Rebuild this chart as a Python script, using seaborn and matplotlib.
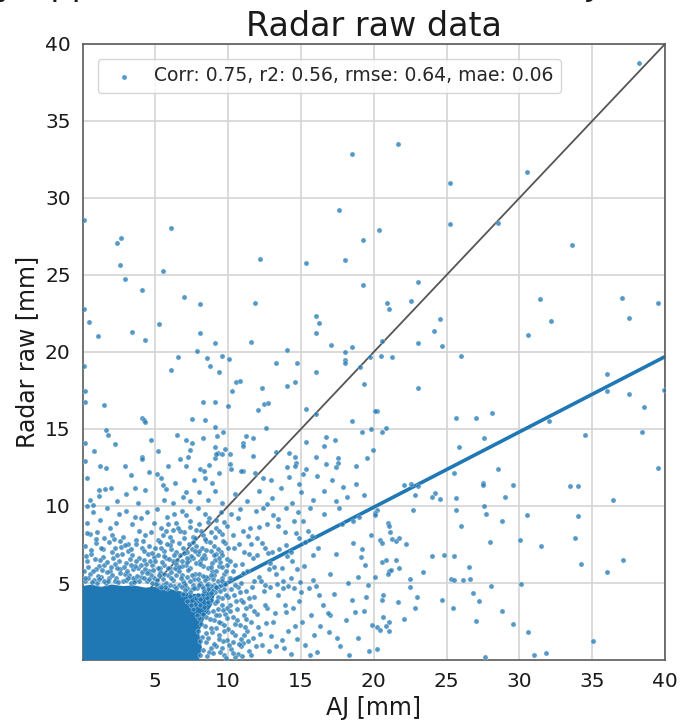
import pandas as pd
import matplotlib
matplotlib.use('Agg')
import matplotlib.pyplot as plt
import seaborn as sns

# ----------------------------------------------------------------------
# Texts
# ----------------------------------------------------------------------
TITLE_TOP = 'Hourly Uppsala radar measures versus AJ on all stations'
TITLE = 'Radar raw data'
X_LABEL = 'AJ [mm]'
Y_LABEL = 'Radar raw [mm]'
LEGEND_LABEL = 'Corr: 0.75, r2: 0.56, rmse: 0.64, mae: 0.06'
TICKS = [5, 10, 15, 20, 25, 30, 35, 40]

# ----------------------------------------------------------------------
# Lines (1:1 and fitted)
# ----------------------------------------------------------------------
one_x = [0, 40]
one_y = [0, 40]
fit_x = [0, 40]
fit_y = [0.14, 19.7]

# saturated core of the cloud (outline)
core_x = [0, 0, 0.6, 1.3, 2.0, 2.8, 3.5, 4.3, 5.0, 5.6, 6.3, 7.0, 7.6, 8.2, 8.7, 9.1, 8.9, 8.4, 8.0, 8.2, 8.0, 0]
core_y = [0, 4.8, 4.9, 4.75, 4.9, 4.8, 4.85, 4.7, 4.75, 4.7, 4.55, 4.4, 4.3, 4.3, 4.45, 4.3, 3.6, 2.8, 1.8, 0.8, 0, 0]

# ----------------------------------------------------------------------
# Scatter points (AJ, radar raw), grouped by region
# ----------------------------------------------------------------------
pts_top_left = [
    (18.53, 32.84), (17.64, 29.2), (19.24, 27.3), (6.08, 28.07), (2.67, 27.4),
    (2.37, 27.08), (2.55, 25.67), (2.90, 24.72), (4.06, 24.0), (5.55, 25.23),
    (6.97, 23.6), (8.09, 23.1), (12.17, 26.06), (11.87, 23.2), (15.35, 25.8),
    (18.05, 26.0), (19.24, 24.35), (16.06, 22.34), (16.24, 21.88), (16.06, 21.21),
    (17.05, 20.43), (18.53, 20.32), (18.05, 19.98), (18.05, 19.48), (18.05, 19.27),
    (19.04, 19.0), (19.77, 19.7), (19.36, 17.92), (16.06, 18.7), (14.75, 19.27),
    (14.05, 20.15), (13.27, 19.27), (14.57, 18.03), (14.05, 17.81), (12.35, 17.66),
    (10.56, 18.07), (10.84, 18.12), (11.57, 20.65), (10.04, 19.55), (9.56, 19.76),
    (9.37, 18.7), (8.73, 19.09), (8.55, 19.59), (7.86, 20.04), (9.1, 20.58),
    (8.09, 21.21), (6.56, 19.7), (6.08, 18.81), (5.25, 21.82), (4.27, 20.76),
    (3.38, 21.28), (1.06, 21.04), (0.45, 21.93), (0.1, 28.6), (0.1, 22.8), (0.1, 19.1),
]

pts_top_right = [
    (38.24, 38.75), (21.65, 33.5), (25.26, 30.97), (30.55, 31.7), (20.36, 27.92),
    (25.26, 28.29), (28.56, 28.38), (33.62, 26.93), (23.07, 24.57), (20.93, 23.18),
    (21.07, 22.77), (22.54, 23.33), (24.55, 22.16), (24.14, 21.34), (23.07, 20.56),
    (24.67, 20.39), (20.55, 20.69), (31.42, 23.44), (32.15, 21.99), (30.62, 21.1),
    (37.03, 23.5), (37.53, 22.23), (39.53, 23.16),
]

pts_right = [
    (20.5, 19.76), (21.24, 19.65), (26.0, 19.76), (23.07, 17.64), (20.23, 16.19),
    (25.65, 15.73), (27.03, 15.73), (28.15, 16.02), (20.55, 14.78), (20.85, 15.08),
    (25.84, 13.83), (27.6, 14.39), (36.04, 18.59), (36.04, 17.49), (37.53, 17.25),
    (38.54, 16.41), (39.94, 17.53), (32.02, 15.52), (34.49, 14.63), (38.4, 14.78),
    (39.53, 12.45), (28.56, 12.4), (25.54, 12.12), (27.53, 11.47), (27.53, 11.36),
    (29.55, 11.38), (29.02, 10.6), (33.5, 11.28), (34.03, 11.28), (36.41, 10.39),
    (25.65, 10.49), (24.55, 10.45), (23.98, 10.6), (24.2, 10.82), (22.06, 11.38),
    (22.56, 11.45), (23.07, 11.3), (22.84, 10.71), (22.72, 9.76), (20.23, 9.74),
    (20.09, 9.55), (27.55, 10.03), (25.65, 9.72), (27.73, 9.48), (26.0, 8.72),
    (28.81, 9.03), (30.55, 9.44), (34.03, 9.37), (27.97, 7.68), (30.03, 7.79),
    (31.49, 7.42), (33.8, 7.9), (34.22, 6.25), (37.1, 6.47), (36.04, 5.69),
    (20.96, 8.87), (21.05, 8.7), (21.12, 8.29), (20.43, 7.79), (20.55, 7.58),
    (21.24, 7.86), (21.53, 7.71), (21.74, 7.92), (22.24, 7.53), (20.55, 6.36),
    (20.85, 6.51), (21.53, 6.47), (21.05, 5.78), (21.19, 5.84), (21.0, 5.6),
    (21.76, 5.95), (23.36, 5.69), (24.0, 6.75), (24.85, 6.82), (25.54, 6.75),
    (26.57, 6.02), (22.51, 5.28), (22.51, 4.74), (22.95, 4.11), (20.66, 4.24),
    (20.55, 3.9), (21.65, 3.79), (22.84, 3.4), (25.33, 5.28), (25.49, 5.19),
    (26.13, 5.21), (26.61, 5.28), (24.71, 3.9), (25.42, 3.4), (26.84, 4.35),
    (27.25, 3.83), (28.03, 4.78), (30.12, 4.95), (28.81, 3.18), (27.0, 2.51),
    (29.55, 2.34), (30.62, 1.8), (35.06, 1.23), (31.03, 0.34), (31.85, 0.45),
    (27.64, 0.17), (20.66, 2.79), (21.07, 2.49), (20.85, 2.23), (22.06, 2.68),
    (20.2, 2.14), (20.43, 1.93), (21.07, 1.9), (20.2, 0.73), (20.09, 5.41), (20.09, 9.4),
]

pts_mid = [
    (10.27, 17.47), (1.48, 16.58), (8.28, 16.75), (9.1, 16.75), (9.97, 16.47),
    (12.05, 16.23), (12.47, 16.64), (12.76, 16.71), (15.35, 16.3), (16.06, 15.97),
    (18.53, 15.52), (20.07, 16.15), (4.11, 15.69), (4.22, 15.58), (4.29, 15.43),
    (7.54, 15.67), (8.44, 15.58), (9.1, 15.13), (12.58, 15.08), (1.64, 14.94),
    (1.77, 14.61), (4.68, 14.29), (7.09, 14.29), (7.54, 14.11), (8.28, 14.4),
    (9.26, 14.55), (9.67, 14.79), (11.05, 14.07), (11.05, 13.9), (11.71, 14.4),
    (15.35, 14.16), (16.75, 14.5), (17.37, 14.29), (16.57, 13.9), (19.22, 14.83),
    (19.84, 14.98), (19.93, 13.64), (19.52, 13.1), (7.41, 13.62), (7.27, 13.2),
    (6.68, 13.05), (9.1, 13.81), (9.31, 13.46), (9.77, 13.68), (10.11, 13.38),
    (9.56, 13.38), (9.08, 13.1), (9.19, 13.38), (11.73, 13.27), (13.31, 13.49),
    (14.16, 13.42), (14.57, 13.16), (14.68, 12.77), (16.06, 13.2), (17.53, 13.12),
    (17.57, 12.81), (4.07, 13.16), (4.11, 13.03), (1.18, 12.62), (1.59, 12.49),
    (2.9, 12.6), (7.09, 12.6), (8.09, 12.4), (10.13, 12.7), (11.02, 12.3),
    (14.05, 12.5), (14.59, 12.6), (15.37, 12.4), (16.75, 12.7), (17.43, 12.5),
    (18.76, 12.6), (0.17, 17.49), (0.17, 16.75), (0.17, 14.07), (11.23, 14.55),
]

pts_band_low = [
    (1.16, 11.04), (1.57, 11.1), (1.11, 10.65), (0.31, 11.84), (1.94, 11.17),
    (2.97, 10.76), (3.61, 11.15), (4.29, 11.06), (0.5, 10.4), (2.4, 10.3),
    (3.3, 12.0), (0.8, 13.6), (2.2, 14.0), (3.8, 10.2), (4.6, 12.2), (0.2, 12.9),
    (5.14, 12.08), (5.37, 11.82), (5.53, 11.38), (5.73, 11.08), (6.33, 11.47),
    (8.32, 12.29), (8.43, 11.82), (7.11, 10.91), (7.68, 11.69), (8.67, 12.64),
    (9.4, 12.16), (5.6, 10.4), (6.2, 10.2), (6.9, 10.6), (7.4, 10.3), (8.0, 10.9),
    (8.6, 10.4), (9.1, 11.0), (9.6, 10.2), (5.9, 12.6), (8.9, 11.5), (6.5, 14.6),
    (5.2, 13.6), (10.22, 12.38), (10.91, 12.29), (11.85, 12.12), (12.4, 11.8),
    (12.97, 11.69), (14.18, 11.9), (15.17, 12.08), (16.08, 11.95), (17.11, 11.69),
    (17.91, 11.25), (18.15, 10.6), (10.5, 10.8), (11.3, 10.3), (12.1, 11.0),
    (13.0, 10.5), (13.6, 11.2), (14.4, 10.2), (15.0, 10.9), (15.8, 10.4),
    (16.6, 11.0), (17.4, 10.3), (18.8, 11.4), (19.3, 10.7), (12.7, 10.1), (14.9, 11.4),
]

pts_ring = [
    (0.2, 5.1), (0.5, 5.6), (0.8, 5.2), (1.1, 6.1), (1.3, 5.4), (1.6, 5.0),
    (1.9, 5.8), (2.1, 6.6), (2.3, 5.3), (2.6, 5.9), (2.8, 5.1), (3.0, 6.3),
    (3.2, 5.5), (3.4, 6.8), (3.6, 5.2), (3.8, 6.0), (4.0, 5.4), (4.2, 6.5),
    (4.4, 5.1), (4.6, 5.8), (4.8, 6.2), (4.9, 5.3), (0.3, 6.4), (0.6, 6.9),
    (0.9, 5.9), (1.4, 6.7), (1.8, 5.3), (2.0, 7.0), (2.5, 6.4), (2.9, 5.6),
    (3.1, 7.1), (3.5, 5.9), (3.9, 6.6), (4.1, 5.7), (4.5, 6.9), (4.7, 5.5),
    (0.1, 5.8), (1.0, 5.0), (1.5, 6.2), (2.2, 5.1), (2.7, 6.9), (3.3, 5.0),
    (3.7, 6.4), (4.3, 5.9), (4.9, 6.7), (0.4, 5.3), (1.2, 6.5), (1.7, 5.7),
    (2.4, 6.0), (3.0, 5.2), (3.6, 6.1), (4.2, 5.3), (4.8, 5.0),
    (0.2, 7.4), (0.5, 8.2), (0.9, 7.6), (1.2, 9.1), (1.5, 7.9), (1.9, 8.6),
    (2.2, 7.3), (2.5, 9.5), (2.8, 8.0), (3.1, 7.5), (3.4, 8.8), (3.7, 7.8),
    (4.0, 9.2), (4.3, 8.1), (4.6, 7.4), (4.9, 8.9), (0.7, 9.6), (1.0, 8.3),
    (1.7, 9.9), (2.0, 8.1), (2.6, 7.7), (3.0, 9.7), (3.3, 7.2), (3.9, 8.4),
    (4.4, 9.6), (4.7, 8.3), (0.3, 8.9), (1.4, 7.2), (2.3, 8.9), (3.6, 9.3),
    (4.1, 7.3), (0.33, 8.27), (0.31, 10.0), (0.74, 10.04),
]

pts_ring2 = [
    (0.15, 5.35), (0.35, 6.05), (0.65, 5.05), (0.85, 6.55), (1.05, 5.45), (1.25, 7.25),
    (1.45, 5.15), (1.65, 6.35), (1.85, 7.65), (2.05, 5.55), (2.25, 6.25), (2.45, 5.05),
    (2.65, 7.35), (2.85, 6.05), (3.05, 5.75), (3.25, 6.55), (3.45, 5.35), (3.65, 7.55),
    (3.85, 5.15), (4.05, 6.15), (4.25, 7.05), (4.45, 5.65), (4.65, 6.45), (4.85, 5.85),
    (0.55, 7.15), (0.95, 7.85), (1.35, 5.85), (1.75, 5.15), (2.15, 7.85), (2.55, 5.65),
    (2.95, 7.45), (3.35, 6.15), (3.75, 5.45), (4.15, 7.75), (4.55, 5.25), (4.95, 7.25),
    (0.25, 6.75), (1.15, 5.25), (2.35, 6.85), (3.55, 5.05), (4.35, 6.25), (0.75, 5.75),
    (1.95, 6.05), (3.15, 5.35), (4.75, 6.95),
]

pts_diag = [
    (5.1, 5.2), (5.3, 6.0), (5.5, 4.9), (5.7, 6.6), (5.9, 5.5), (6.1, 7.2),
    (6.3, 4.8), (6.5, 5.9), (6.7, 6.8), (6.9, 5.1), (7.1, 6.2), (7.3, 7.5),
    (7.5, 4.6), (7.7, 5.6), (7.9, 6.9), (8.1, 5.0), (8.3, 6.1), (8.5, 7.7),
    (8.7, 4.7), (8.9, 5.8), (9.1, 6.5), (9.3, 5.1), (9.5, 7.0), (9.7, 5.6),
    (9.9, 6.2), (5.2, 7.8), (5.4, 8.6), (5.6, 7.1), (5.8, 9.3), (6.0, 8.0),
    (6.2, 6.4), (6.4, 8.9), (6.6, 7.6), (6.8, 9.7), (7.0, 8.3), (7.2, 5.4),
    (7.4, 9.0), (7.6, 8.0), (7.8, 6.3), (8.0, 8.8), (8.2, 7.3), (8.4, 9.5),
    (8.6, 6.0), (8.8, 8.3), (9.0, 7.4), (9.2, 9.1), (9.4, 6.1), (9.6, 8.2),
    (9.8, 7.6), (5.0, 6.4), (5.2, 4.9), (5.4, 7.3), (5.6, 5.6), (5.8, 4.7),
    (6.0, 6.0), (6.2, 5.2), (6.4, 7.0), (6.6, 4.9), (6.8, 6.1), (7.0, 5.0),
    (7.2, 7.0), (7.4, 6.0), (7.6, 4.9), (7.8, 7.4), (8.0, 5.6), (8.2, 4.8),
    (8.4, 6.6), (8.6, 5.3), (8.8, 7.1), (9.0, 4.9), (9.2, 5.8), (9.4, 4.8),
    (9.6, 6.8), (9.8, 5.0), (5.1, 9.8), (5.5, 8.1), (5.9, 8.8), (6.3, 9.5),
    (6.7, 8.4), (7.1, 9.4), (7.5, 7.2), (7.9, 9.9), (8.3, 8.1), (8.7, 9.2),
    (9.1, 8.0), (9.5, 9.6), (9.9, 8.7), (5.3, 5.7), (5.7, 5.0), (6.1, 5.7),
    (6.5, 6.5), (6.9, 7.3), (7.3, 6.5), (7.7, 7.9), (8.1, 6.4), (8.5, 5.4),
    (8.9, 6.3), (9.3, 7.2), (9.7, 4.6), (5.6, 6.2), (6.0, 4.9), (6.4, 5.5),
    (6.8, 5.5), (7.2, 4.7), (7.6, 6.6), (8.0, 7.1), (8.4, 5.2), (8.8, 4.8),
    (9.2, 6.9), (9.6, 5.3), (10.0, 7.3),
]

pts_diag2 = [
    (5.05, 4.95), (5.25, 5.55), (5.45, 6.35), (5.65, 4.75), (5.85, 5.95), (6.05, 5.35),
    (6.25, 6.85), (6.45, 4.65), (6.65, 5.75), (6.85, 6.45), (7.05, 4.85), (7.25, 5.85),
    (7.45, 6.75), (7.65, 5.25), (7.85, 4.65), (8.05, 6.25), (8.25, 5.45), (8.45, 7.15),
    (8.65, 4.95), (8.85, 6.05), (9.05, 5.55), (9.25, 4.65), (9.45, 6.35), (9.65, 7.75),
    (9.85, 5.75), (5.15, 6.85), (5.35, 7.65), (5.55, 5.25), (5.75, 8.35), (5.95, 6.55),
    (6.15, 7.75), (6.35, 5.95), (6.55, 8.55), (6.75, 5.35), (6.95, 7.95), (7.15, 6.65),
    (7.35, 8.65), (7.55, 5.55), (7.75, 7.05), (7.95, 5.25), (8.15, 8.35), (8.35, 6.85),
    (8.55, 4.85), (8.75, 7.65), (8.95, 5.25), (9.15, 8.55), (9.35, 6.65), (9.55, 5.15),
    (9.75, 8.95), (9.95, 6.55), (5.2, 5.95), (5.6, 6.75), (6.0, 7.45), (6.4, 6.25),
    (6.8, 4.75), (7.2, 6.35), (7.6, 7.65), (8.0, 4.85), (8.4, 7.85), (8.8, 5.55),
    (9.2, 4.75), (9.6, 6.05), (5.4, 4.75), (5.8, 7.55), (6.2, 8.45), (6.6, 6.05),
    (7.0, 6.95), (7.4, 5.15), (7.8, 8.45), (8.2, 6.65), (8.6, 8.95), (9.0, 6.85),
    (9.4, 8.35), (9.8, 4.95),
]

pts_low = [
    (6.9, 4.3), (7.2, 3.8), (7.4, 4.4), (7.6, 3.3), (7.8, 4.0), (8.0, 2.7),
    (8.1, 3.6), (8.3, 4.3), (8.4, 2.2), (8.5, 1.2), (8.6, 3.1), (8.7, 0.5),
    (8.8, 3.9), (8.9, 1.8), (9.0, 2.6), (9.1, 4.4), (9.2, 0.9), (9.3, 3.3),
    (9.4, 1.6), (9.5, 2.4), (9.6, 4.0), (9.7, 0.3), (9.8, 3.0), (9.9, 1.3),
    (10.0, 2.0), (10.1, 3.6), (10.2, 0.7), (10.3, 2.8), (10.4, 4.2), (10.5, 1.6),
    (10.6, 3.3), (10.7, 0.4), (10.8, 2.3), (10.9, 3.9), (11.0, 1.1), (11.1, 2.9),
    (11.2, 4.5), (11.3, 1.9), (11.4, 0.6), (11.5, 3.5), (11.6, 2.5), (11.7, 1.4),
    (11.8, 4.1), (11.9, 0.9), (12.0, 3.0), (8.2, 1.5), (8.5, 2.8), (8.8, 0.8),
    (9.1, 3.7), (9.4, 2.9), (9.7, 1.9), (10.0, 4.1), (10.3, 1.2), (10.6, 2.6),
    (10.9, 0.9), (11.2, 3.4), (8.1, 0.3), (8.3, 3.0), (8.9, 4.5), (9.2, 2.1),
    (9.6, 0.8), (9.9, 3.4), (10.2, 4.6), (10.5, 0.2), (10.8, 4.4), (11.1, 1.6),
    (7.9, 1.9), (8.6, 4.6), (9.3, 4.1),
]

pts_low2 = [
    (7.05, 4.55), (7.35, 4.15), (7.65, 4.65), (7.95, 4.25), (8.25, 4.65), (8.55, 4.05),
    (8.85, 4.35), (9.15, 4.75), (9.45, 4.45), (7.75, 3.65), (8.05, 3.95), (8.35, 3.45),
    (8.65, 3.75), (8.95, 3.15), (9.25, 3.85), (9.55, 3.55), (9.85, 4.25), (8.15, 2.35),
    (8.45, 1.75), (8.75, 2.65), (9.05, 1.05), (9.35, 2.45), (9.65, 1.25), (9.95, 2.75),
    (10.25, 1.85), (10.55, 3.85), (10.85, 1.35), (11.15, 2.15), (11.45, 4.05), (8.25, 0.65),
    (8.55, 0.25), (8.95, 0.45), (9.45, 0.55), (9.85, 0.15), (10.35, 0.45), (10.95, 0.25),
    (11.35, 1.25), (8.05, 1.25), (8.65, 1.45), (9.15, 2.95), (9.75, 2.25), (10.15, 3.15),
    (10.45, 2.35), (10.75, 1.05), (11.05, 3.75), (11.55, 0.35), (7.45, 3.55), (7.85, 2.95),
    (8.35, 4.45), (8.85, 2.05), (9.35, 1.35), (9.65, 3.25), (10.05, 0.95), (10.65, 4.75),
    (11.25, 2.65), (11.75, 3.15), (12.05, 2.15), (12.35, 0.95), (12.65, 3.35), (12.95, 1.55),
]

pts_outer_low = [
    (10.1, 5.3), (10.3, 8.1), (10.5, 6.2), (10.7, 9.2), (10.9, 5.0), (11.1, 7.0),
    (11.3, 5.8), (11.5, 8.6), (11.7, 6.6), (11.9, 9.7), (12.1, 5.4), (12.3, 7.6),
    (12.5, 4.9), (12.7, 8.8), (12.9, 6.3), (13.1, 9.4), (13.3, 5.6), (13.5, 7.2),
    (13.7, 6.0), (13.9, 8.3), (14.1, 4.8), (14.3, 7.0), (14.5, 9.0), (14.7, 5.9),
    (14.9, 7.9), (10.4, 7.3), (10.8, 9.8), (11.4, 6.9), (11.8, 5.1), (12.4, 9.9),
    (12.8, 5.9), (13.4, 8.7), (13.8, 5.1), (14.4, 6.4), (14.8, 9.6), (10.2, 9.5),
    (11.0, 8.4), (12.0, 7.9), (13.0, 7.0), (14.0, 9.9),
    (12.2, 1.7), (12.5, 3.6), (12.8, 0.6), (13.1, 2.5), (13.4, 4.2), (13.7, 1.3),
    (14.0, 3.1), (14.3, 0.4), (14.6, 2.2), (14.9, 3.8), (15.3, 1.0), (15.7, 2.9),
    (16.1, 0.5), (16.5, 3.6), (16.9, 1.8), (17.3, 4.3), (17.7, 0.9), (18.1, 2.6),
    (18.5, 3.9), (18.9, 1.4), (19.3, 3.2), (19.7, 0.6), (12.6, 2.4), (13.3, 0.9),
    (14.1, 1.9), (15.0, 4.4), (15.9, 1.6), (17.0, 2.9), (18.3, 0.3), (19.5, 4.1),
    (13.9, 3.6), (16.3, 2.2),
    (15.2, 6.1), (15.5, 8.4), (15.8, 5.2), (16.2, 7.3), (16.6, 9.5), (17.0, 5.6),
    (17.4, 6.9), (17.8, 8.8), (18.2, 5.0), (18.6, 7.6), (19.0, 9.3), (19.4, 6.2),
    (19.8, 8.1), (16.0, 4.8), (17.6, 9.9), (18.9, 5.4), (15.6, 9.9), (19.2, 7.2),
    (18.6, 9.0), (19.1, 6.7), (19.6, 4.9), (18.7, 3.1), (19.9, 2.3),
]

pts_outer2 = [
    (10.15, 6.45), (10.45, 4.85), (10.75, 7.55), (11.05, 5.65), (11.35, 8.05), (11.65, 4.75),
    (11.95, 6.85), (12.25, 5.15), (12.55, 7.25), (12.85, 4.75), (13.15, 6.05), (13.45, 9.15),
    (13.75, 4.65), (14.05, 6.75), (14.35, 5.35), (14.65, 8.25), (14.95, 5.05), (15.25, 7.65),
    (15.55, 4.65), (15.85, 6.85), (10.35, 5.75), (10.95, 6.25), (11.55, 7.55), (12.15, 8.65),
    (12.75, 6.95), (13.35, 4.95), (13.95, 7.45), (14.55, 4.65), (15.15, 9.05), (15.75, 8.05),
    (13.25, 3.05), (13.85, 0.75), (14.45, 3.35), (15.05, 2.45), (15.65, 0.35), (16.25, 4.25),
    (16.85, 3.05), (17.45, 1.45), (12.45, 4.45), (14.75, 1.35),
]

groups = [pts_top_left, pts_top_right, pts_right, pts_mid, pts_band_low,
          pts_ring, pts_ring2, pts_diag, pts_diag2, pts_low, pts_low2,
          pts_outer_low, pts_outer2]
rows = [p for g in groups for p in g]
df = pd.DataFrame(rows, columns=['aj', 'radar'])

# ----------------------------------------------------------------------
# Plot
# ----------------------------------------------------------------------
sns.set_style('whitegrid', {'axes.edgecolor': '#5a5a5a', 'grid.color': '#d4d4d4'})
plt.rcParams['font.family'] = ['DejaVu Sans']

BLUE = '#1f77b4'

fig = plt.figure(figsize=(6.83, 7.21), dpi=100)
ax = fig.add_axes([0.1208, 0.0846, 0.8529, 0.8544])

sns.lineplot(x=one_x, y=one_y, color='#555555', lw=1.3, ax=ax, zorder=2)
sns.lineplot(x=fit_x, y=fit_y, color=BLUE, lw=2.6, ax=ax, zorder=2)
ax.fill(core_x, core_y, color=BLUE, lw=0, zorder=3)
sns.scatterplot(data=df, x='aj', y='radar', color=BLUE, s=14, alpha=0.75,
                ax=ax, zorder=4, label=LEGEND_LABEL)

ax.set_xlim(0, 40)
ax.set_ylim(0, 40)
ax.set_xticks(TICKS)
ax.set_yticks(TICKS)
ax.grid(True, lw=1.2)
ax.tick_params(labelsize=14.5, length=5, width=1, color='#5a5a5a', direction='out',
               labelcolor='#1a1a1a')
for sp in ax.spines.values():
    sp.set_linewidth(1.2)

ax.set_xlabel(X_LABEL, fontsize=17, color='#1a1a1a')
ax.set_ylabel(Y_LABEL, fontsize=17, color='#1a1a1a')
ax.set_title(TITLE_TOP + '\n' + TITLE, fontsize=24, linespacing=1.28, color='#1a1a1a')
ax.legend(loc='upper left', fontsize=13.5, markerscale=1.0, handletextpad=0.6,
          borderaxespad=0.8)

fig.savefig('out.png', dpi=100)
